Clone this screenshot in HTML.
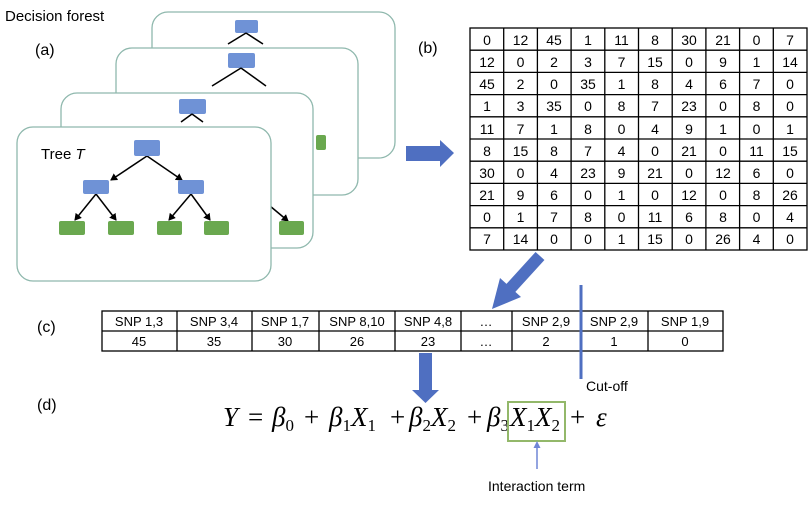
<!DOCTYPE html>
<html><head><meta charset="utf-8"><style>
html,body{margin:0;padding:0;background:#fff;}
svg{display:block;font-family:"Liberation Sans",sans-serif;}
</style></head><body>
<svg width="810" height="506" viewBox="0 0 810 506" xmlns="http://www.w3.org/2000/svg">
<defs>
<marker id="ah" markerWidth="8" markerHeight="8" refX="6" refY="4" orient="auto" markerUnits="userSpaceOnUse"><path d="M0,0 L7,4 L0,8 z" fill="#000"/></marker>
</defs>
<text x="5" y="21" font-size="15">Decision forest</text>
<text x="35" y="55" font-size="16">(a)</text>
<!-- back card -->
<rect x="152" y="12" width="243" height="146" rx="16" fill="#fff" stroke="#8fb8ad" stroke-width="1.3"/>
<rect x="235" y="20" width="23" height="13" rx="2" fill="#6f92d6"/>
<line x1="246" y1="33" x2="228" y2="44" stroke="#000" stroke-width="1.5"/><line x1="246" y1="33" x2="263" y2="44" stroke="#000" stroke-width="1.5"/>
<!-- card 2 -->
<rect x="116" y="48" width="242" height="147" rx="16" fill="#fff" stroke="#8fb8ad" stroke-width="1.3"/>
<rect x="228" y="53" width="27" height="15" rx="2" fill="#6f92d6"/>
<line x1="241" y1="68" x2="212" y2="86" stroke="#000" stroke-width="1.5"/><line x1="241" y1="68" x2="266" y2="86" stroke="#000" stroke-width="1.5"/>
<!-- card 3 -->
<rect x="61" y="93" width="252" height="155" rx="16" fill="#fff" stroke="#8fb8ad" stroke-width="1.3"/>
<rect x="316" y="135" width="10" height="15" rx="2" fill="#6aa84f"/>
<rect x="179" y="99" width="27" height="15" rx="2" fill="#6f92d6"/>
<line x1="192" y1="114" x2="181" y2="122" stroke="#000" stroke-width="1.5"/><line x1="192" y1="114" x2="203" y2="122" stroke="#000" stroke-width="1.5"/>
<line x1="270" y1="206" x2="288" y2="221" stroke="#000" stroke-width="1.5" marker-end="url(#ah)"/>
<rect x="279" y="221" width="25" height="14" rx="2" fill="#6aa84f"/>
<!-- front card -->
<rect x="17" y="127" width="254" height="154" rx="16" fill="#fff" stroke="#8fb8ad" stroke-width="1.3"/>
<text x="41" y="159" font-size="15">Tree <tspan font-style="italic">T</tspan></text>
<g stroke="#000" stroke-width="1.5" marker-end="url(#ah)">
<line x1="147" y1="156" x2="111" y2="180"/>
<line x1="147" y1="156" x2="182" y2="180"/>
<line x1="96" y1="194" x2="75" y2="220"/>
<line x1="96" y1="194" x2="116" y2="220"/>
<line x1="191" y1="194" x2="169" y2="220"/>
<line x1="191" y1="194" x2="210" y2="220"/>
</g>
<rect x="134" y="140" width="26" height="16" rx="2" fill="#6f92d6"/>
<rect x="83" y="180" width="26" height="14" rx="2" fill="#6f92d6"/>
<rect x="178" y="180" width="26" height="14" rx="2" fill="#6f92d6"/>
<rect x="59" y="221" width="26" height="14" rx="2" fill="#6aa84f"/>
<rect x="108" y="221" width="26" height="14" rx="2" fill="#6aa84f"/>
<rect x="157" y="221" width="25" height="14" rx="2" fill="#6aa84f"/>
<rect x="204" y="221" width="25" height="14" rx="2" fill="#6aa84f"/>
<!-- right arrow -->
<polygon points="406,146 440,146 440,140 454,153 440,167 440,161 406,161" fill="#4f6fc1"/>
<text x="418" y="53" font-size="16">(b)</text>
<!-- matrix -->
<g id="mat" font-size="14" text-anchor="middle"></g>
<g stroke="#000" stroke-width="1.3" fill="none">
<rect x="470" y="28" width="337" height="222"/>
</g>
<g font-size="14" text-anchor="middle" fill="#000">
<text id="m"></text>
</g>
<!-- diagonal arrow -->
<line x1="540" y1="256" x2="509" y2="290" stroke="#4f6fc1" stroke-width="12"/>
<polygon points="492,309 521,297 500,278" fill="#4f6fc1"/>
<text x="37" y="332" font-size="16">(c)</text>
<text x="37" y="410" font-size="16">(d)</text>
<!-- snp table -->
<g stroke="#000" stroke-width="1.3" fill="none">
<rect x="102" y="311" width="621" height="40"/>
<line x1="102" y1="331" x2="723" y2="331"/>
<line x1="177" y1="311" x2="177" y2="351"/><line x1="252" y1="311" x2="252" y2="351"/>
<line x1="319" y1="311" x2="319" y2="351"/><line x1="395" y1="311" x2="395" y2="351"/>
<line x1="461" y1="311" x2="461" y2="351"/><line x1="512" y1="311" x2="512" y2="351"/>
<line x1="648" y1="311" x2="648" y2="351"/>
</g>
<g font-size="13" text-anchor="middle">
<text x="139" y="326">SNP 1,3</text><text x="214" y="326">SNP 3,4</text><text x="285" y="326">SNP 1,7</text>
<text x="357" y="326">SNP 8,10</text><text x="428" y="326">SNP 4,8</text><text x="486" y="326">…</text>
<text x="546" y="326">SNP 2,9</text><text x="614" y="326">SNP 2,9</text><text x="685" y="326">SNP 1,9</text>
<text x="139" y="346">45</text><text x="214" y="346">35</text><text x="285" y="346">30</text>
<text x="357" y="346">26</text><text x="428" y="346">23</text><text x="486" y="346">…</text>
<text x="546" y="346">2</text><text x="614" y="346">1</text><text x="685" y="346">0</text>
</g>
<line x1="581" y1="285" x2="581" y2="379" stroke="#4f6fc1" stroke-width="3"/>
<text x="586" y="391" font-size="14">Cut-off</text>
<!-- down arrow -->
<polygon points="419,353 432,353 432,390 439,390 425.5,403 412,390 419,390" fill="#4f6fc1"/>
<!-- equation -->
<g font-family="'Liberation Serif',serif" font-size="27" font-style="italic">
<text x="223" y="426">Y</text>
<text x="248" y="426" font-style="normal">=</text>
<text x="272" y="426">β<tspan font-size="17" dy="5" font-style="normal">0</tspan></text>
<text x="304" y="426" font-style="normal">+</text>
<text x="329" y="426">β<tspan font-size="17" dy="5" font-style="normal">1</tspan><tspan dy="-5">X</tspan><tspan font-size="17" dy="5" font-style="normal">1</tspan></text>
<text x="390" y="426" font-style="normal">+</text>
<text x="409" y="426">β<tspan font-size="17" dy="5" font-style="normal">2</tspan><tspan dy="-5">X</tspan><tspan font-size="17" dy="5" font-style="normal">2</tspan></text>
<text x="467" y="426" font-style="normal">+</text>
<text x="487" y="426">β<tspan font-size="17" dy="5" font-style="normal">3</tspan></text>
<text x="510" y="426">X<tspan font-size="17" dy="5" font-style="normal">1</tspan><tspan dy="-5">X</tspan><tspan font-size="17" dy="5" font-style="normal">2</tspan></text>
<text x="570" y="426" font-style="normal">+</text>
<text x="596" y="426">ε</text>
</g>
<rect x="508" y="402" width="57" height="39" fill="none" stroke="#93b86a" stroke-width="2"/>
<line x1="537" y1="469" x2="537" y2="447" stroke="#6f86d6" stroke-width="1.5"/>
<polygon points="537,441 533.5,448 540.5,448" fill="#6f86d6"/>
<text x="488" y="491" font-size="14">Interaction term</text>
<!-- matrix grid and numbers -->
<g stroke="#000" stroke-width="1.3">
<line x1="503.7" y1="28" x2="503.7" y2="250"/><line x1="537.4" y1="28" x2="537.4" y2="250"/>
<line x1="571.1" y1="28" x2="571.1" y2="250"/><line x1="604.8" y1="28" x2="604.8" y2="250"/>
<line x1="638.5" y1="28" x2="638.5" y2="250"/><line x1="672.2" y1="28" x2="672.2" y2="250"/>
<line x1="705.9" y1="28" x2="705.9" y2="250"/><line x1="739.6" y1="28" x2="739.6" y2="250"/>
<line x1="773.3" y1="28" x2="773.3" y2="250"/>
<line x1="470" y1="50.2" x2="807" y2="50.2"/><line x1="470" y1="72.4" x2="807" y2="72.4"/>
<line x1="470" y1="94.6" x2="807" y2="94.6"/><line x1="470" y1="116.8" x2="807" y2="116.8"/>
<line x1="470" y1="139" x2="807" y2="139"/><line x1="470" y1="161.2" x2="807" y2="161.2"/>
<line x1="470" y1="183.4" x2="807" y2="183.4"/><line x1="470" y1="205.6" x2="807" y2="205.6"/>
<line x1="470" y1="227.8" x2="807" y2="227.8"/>
</g>
<g font-size="14" text-anchor="middle">
<text y="45"><tspan x="487">0</tspan><tspan x="520.5">12</tspan><tspan x="554">45</tspan><tspan x="588">1</tspan><tspan x="621.5">11</tspan><tspan x="655">8</tspan><tspan x="689">30</tspan><tspan x="723">21</tspan><tspan x="756.5">0</tspan><tspan x="790">7</tspan></text>
<text y="67"><tspan x="487">12</tspan><tspan x="520.5">0</tspan><tspan x="554">2</tspan><tspan x="588">3</tspan><tspan x="621.5">7</tspan><tspan x="655">15</tspan><tspan x="689">0</tspan><tspan x="723">9</tspan><tspan x="756.5">1</tspan><tspan x="790">14</tspan></text>
<text y="89"><tspan x="487">45</tspan><tspan x="520.5">2</tspan><tspan x="554">0</tspan><tspan x="588">35</tspan><tspan x="621.5">1</tspan><tspan x="655">8</tspan><tspan x="689">4</tspan><tspan x="723">6</tspan><tspan x="756.5">7</tspan><tspan x="790">0</tspan></text>
<text y="111"><tspan x="487">1</tspan><tspan x="520.5">3</tspan><tspan x="554">35</tspan><tspan x="588">0</tspan><tspan x="621.5">8</tspan><tspan x="655">7</tspan><tspan x="689">23</tspan><tspan x="723">0</tspan><tspan x="756.5">8</tspan><tspan x="790">0</tspan></text>
<text y="134"><tspan x="487">11</tspan><tspan x="520.5">7</tspan><tspan x="554">1</tspan><tspan x="588">8</tspan><tspan x="621.5">0</tspan><tspan x="655">4</tspan><tspan x="689">9</tspan><tspan x="723">1</tspan><tspan x="756.5">0</tspan><tspan x="790">1</tspan></text>
<text y="156"><tspan x="487">8</tspan><tspan x="520.5">15</tspan><tspan x="554">8</tspan><tspan x="588">7</tspan><tspan x="621.5">4</tspan><tspan x="655">0</tspan><tspan x="689">21</tspan><tspan x="723">0</tspan><tspan x="756.5">11</tspan><tspan x="790">15</tspan></text>
<text y="178"><tspan x="487">30</tspan><tspan x="520.5">0</tspan><tspan x="554">4</tspan><tspan x="588">23</tspan><tspan x="621.5">9</tspan><tspan x="655">21</tspan><tspan x="689">0</tspan><tspan x="723">12</tspan><tspan x="756.5">6</tspan><tspan x="790">0</tspan></text>
<text y="200"><tspan x="487">21</tspan><tspan x="520.5">9</tspan><tspan x="554">6</tspan><tspan x="588">0</tspan><tspan x="621.5">1</tspan><tspan x="655">0</tspan><tspan x="689">12</tspan><tspan x="723">0</tspan><tspan x="756.5">8</tspan><tspan x="790">26</tspan></text>
<text y="222"><tspan x="487">0</tspan><tspan x="520.5">1</tspan><tspan x="554">7</tspan><tspan x="588">8</tspan><tspan x="621.5">0</tspan><tspan x="655">11</tspan><tspan x="689">6</tspan><tspan x="723">8</tspan><tspan x="756.5">0</tspan><tspan x="790">4</tspan></text>
<text y="244"><tspan x="487">7</tspan><tspan x="520.5">14</tspan><tspan x="554">0</tspan><tspan x="588">0</tspan><tspan x="621.5">1</tspan><tspan x="655">15</tspan><tspan x="689">0</tspan><tspan x="723">26</tspan><tspan x="756.5">4</tspan><tspan x="790">0</tspan></text>
</g>
</svg>
</body></html>
